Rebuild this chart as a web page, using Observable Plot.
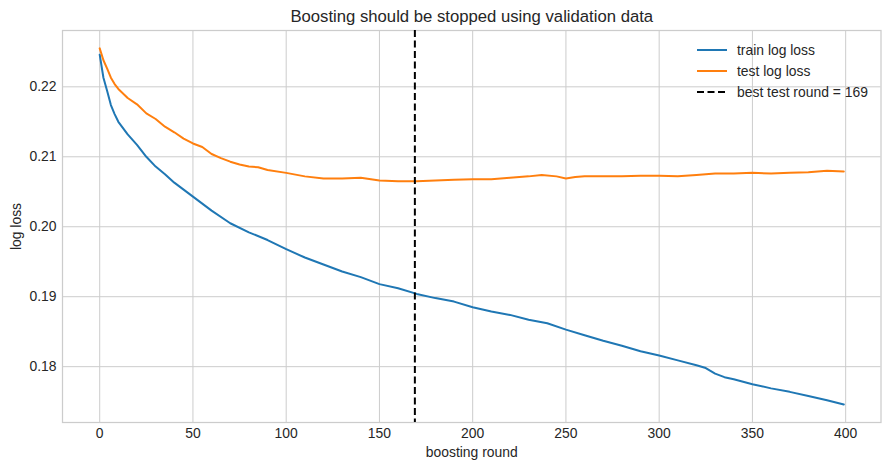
<!DOCTYPE html>
<html>
<head>
<meta charset="utf-8">
<script src="https://cdn.jsdelivr.net/npm/d3@7"></script>
<script src="https://cdn.jsdelivr.net/npm/@observablehq/plot@0.6"></script>
<style>
  html, body { margin: 0; padding: 0; background: white; }
  #wrap { position: relative; width: 889px; height: 470px; font-family: "Liberation Sans", Arial, sans-serif; color: #262626; }
  #legend { position: absolute; left: 697px; top: 39px; font-size: 13.9px; }
  .row { display: flex; align-items: center; height: 21px; }
  .row svg { width: 30px; height: 10px; margin-right: 10px; }
</style>
</head>
<body>
<div id="wrap"></div>
<script>
const trainRounds = [0,2,4,6,8,10,15,20,25,30,35,40,45,50,60,70,80,90,100,110,120,130,140,150,160,170,180,190,200,210,220,230,240,250,260,270,280,290,300,310,320,325,330,335,340,350,360,370,380,390,399];
const trainLoss = [0.2246,0.2213,0.2194,0.2174,0.2161,0.2150,0.2132,0.2117,0.2100,0.2086,0.2075,0.2063,0.2053,0.2043,0.2023,0.2005,0.1992,0.1981,0.1968,0.1956,0.1946,0.1936,0.1928,0.1918,0.1912,0.1904,0.1898,0.1893,0.1885,0.1879,0.1874,0.1867,0.1862,0.1853,0.1845,0.1837,0.1830,0.1822,0.1816,0.1809,0.1802,0.1798,0.1790,0.1785,0.1782,0.1775,0.1769,0.1764,0.1758,0.1752,0.1746];
const testRounds = [0,2,4,6,8,10,15,20,25,30,35,40,45,50,55,60,65,70,75,80,85,90,100,110,120,130,140,150,160,170,180,190,200,210,220,230,237,245,250,255,260,270,280,290,300,310,320,330,340,350,360,370,380,390,399];
const testLoss = [0.2255,0.2238,0.2226,0.2213,0.2204,0.2197,0.2184,0.2175,0.2162,0.2154,0.2143,0.2135,0.2126,0.2119,0.2114,0.2104,0.2098,0.2093,0.2089,0.2086,0.2085,0.2081,0.2077,0.2072,0.2069,0.2069,0.2070,0.2066,0.2065,0.2065,0.2066,0.2067,0.2068,0.2068,0.2070,0.2072,0.2074,0.2072,0.2069,0.2071,0.2072,0.2072,0.2072,0.2073,0.2073,0.2072,0.2074,0.2076,0.2076,0.2077,0.2076,0.2077,0.2078,0.2080,0.2079];
const bestRound = 169;
const xTicks = [0,50,100,150,200,250,300,350,400];
const yTicks = [0.18,0.19,0.20,0.21,0.22];
const titleText = "Boosting should be stopped using validation data";
const xLabel = "boosting round";
const yLabel = "log loss";
const legendLabels = ["train log loss", "test log loss", "best test round = " + bestRound];
const colors = ["#1f77b4", "#ff7f0e", "#000000"];

const train = trainRounds.map((r, i) => ({round: r, loss: trainLoss[i]}));
const test = testRounds.map((r, i) => ({round: r, loss: testLoss[i]}));

const plot = Plot.plot({
  width: 889,
  height: 470,
  marginLeft: 62,
  marginRight: 8.5,
  marginTop: 30,
  marginBottom: 48,
  style: {fontFamily: '"Liberation Sans", Arial, sans-serif', fontSize: "13.9px", color: "#262626", background: "white"},
  x: {domain: [-19.95, 418.95]},
  y: {domain: [0.17202, 0.22805]},
  marks: [
    Plot.gridX(xTicks, {stroke: "#cccccc", strokeOpacity: 1, strokeWidth: 1}),
    Plot.gridY(yTicks, {stroke: "#cccccc", strokeOpacity: 1, strokeWidth: 1}),
    Plot.frame({stroke: "#cccccc", strokeWidth: 1.25}),
    Plot.axisX(xTicks, {tickSize: 0, tickPadding: 6, label: null, fill: "#262626"}),
    Plot.axisY(yTicks, {tickSize: 0, tickPadding: 6, label: null, tickFormat: d3.format(".2f"), fill: "#262626"}),
    Plot.line(train, {x: "round", y: "loss", stroke: colors[0], strokeWidth: 2}),
    Plot.line(test, {x: "round", y: "loss", stroke: colors[1], strokeWidth: 2}),
    Plot.ruleX([bestRound], {stroke: colors[2], strokeWidth: 2, strokeDasharray: "7,3.5"}),
    Plot.text([titleText], {frameAnchor: "top", dy: -14, lineAnchor: "middle", fontSize: 16.7, fill: "#262626"}),
    Plot.text([xLabel], {frameAnchor: "bottom", dy: 30, lineAnchor: "middle", fill: "#262626"}),
    Plot.text([yLabel], {frameAnchor: "left", dx: -46, rotate: -90, textAnchor: "middle", lineAnchor: "middle", fill: "#262626"})
  ]
});
const wrap = document.getElementById("wrap");
wrap.appendChild(plot);

const legend = document.createElement("div");
legend.id = "legend";
legendLabels.forEach((lab, i) => {
  const row = document.createElement("div");
  row.className = "row";
  const dash = i === 2 ? ' stroke-dasharray="7,3.5"' : '';
  row.innerHTML = `<svg viewBox="0 0 30 10"><line x1="0" y1="5" x2="30" y2="5" stroke="${colors[i]}" stroke-width="2"${dash}/></svg><span>${lab}</span>`;
  legend.appendChild(row);
});
wrap.appendChild(legend);
</script>
</body>
</html>
